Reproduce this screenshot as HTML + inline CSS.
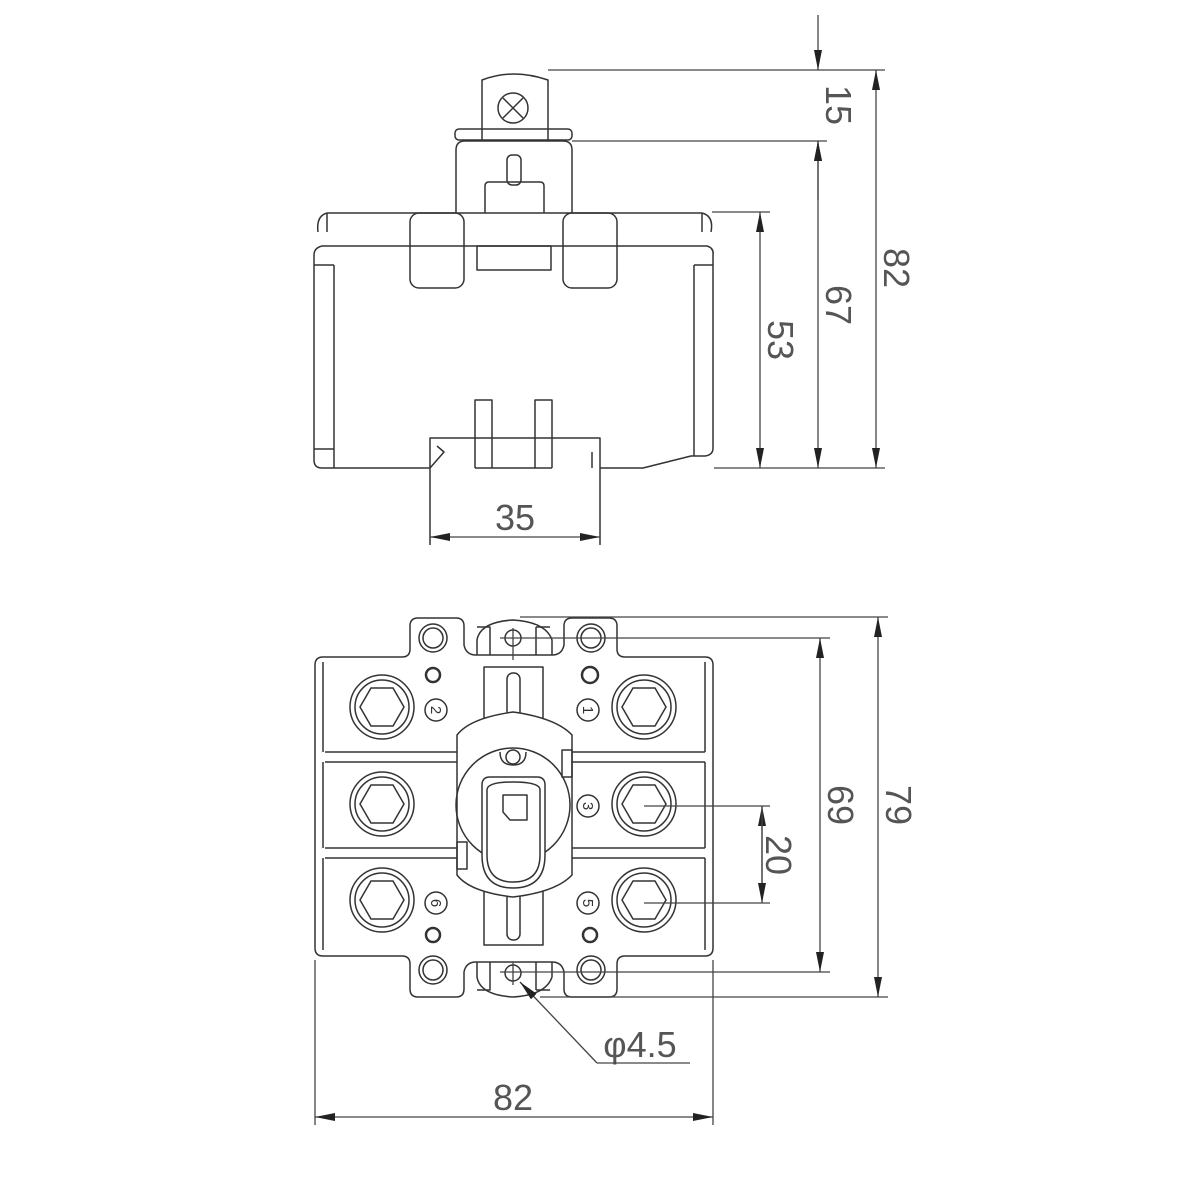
<!DOCTYPE html>
<html><head><style>body{margin:0;background:#fff}svg{display:block}</style></head><body>
<svg width="1200" height="1200" viewBox="0 0 1200 1200" xmlns="http://www.w3.org/2000/svg">
<defs>
<marker id="a" viewBox="0 0 20 8" refX="20" refY="4" markerWidth="20" markerHeight="8" markerUnits="userSpaceOnUse" orient="auto"><path d="M0,0 L20,4 L0,8 z" fill="#222"/></marker>
<g id="t" fill="none" stroke="#333" stroke-width="1.5"><circle r="32"/><circle r="27"/><path d="M-22,0 L-11,-19 L11,-19 L22,0 L11,19 L-11,19 Z"/></g>
</defs>
<g fill="none" stroke="#333" stroke-width="1.5" stroke-linejoin="round">
<!-- TOP VIEW -->
<path d="M482,140 L482,80 Q513,68 548,80 L548,140"/>
<circle cx="513" cy="108" r="15"/><path d="M503,98 L523,118 M523,98 L503,118"/>
<rect x="455" y="129" width="117" height="11" rx="4"/>
<path d="M456,213 L456,150 Q456,141 465,141 L563,141 Q572,141 572,150 L572,213"/>
<rect x="507" y="155" width="14" height="30" rx="5"/>
<path d="M485,213 L485,186 Q485,182 489,182 L540,182 Q544,182 544,186 L544,213"/>
<path d="M327,213 L702,213 M318,232 Q316,216 327,213 M702,213 Q714,216 711,232 M327,213 L327,232 M702,213 L702,232"/>
<path d="M322,246 L707,246 Q714,248 713,255 L713,448 Q713,455 705,456 L691,456 L643,468 L600,468 M322,246 Q314,248 314,255 L314,460 Q314,468 322,468 L430,468"/>
<path d="M334,265 L334,468 M314,265 L334,265 M314,449 L334,449 M694,265 L694,456 M713,265 L694,265"/>
<rect x="410" y="213" width="54" height="75" rx="9"/>
<rect x="563" y="213" width="54" height="75" rx="9"/>
<rect x="477" y="246" width="74" height="24"/>
<path d="M430,545 L430,438 L475,438 M552,438 L600,438 L600,545 M430,468 L444,452 L437,446 M592,452 L592,468"/>
<path d="M475,468 L475,400 L492,400 L492,468 M535,468 L535,400 L552,400 L552,468 M475,438 L552,438 M475,468 L552,468"/>
</g>
<g fill="none" stroke="#444" stroke-width="1.3">
<path d="M548,70 L885,70 M572,141 L827,141 M712,212 L770,212 M714,468 L885,468"/>
<line x1="818" y1="15" x2="818" y2="70" marker-end="url(#a)"/>
<line x1="818" y1="200" x2="818" y2="141" marker-end="url(#a)"/>
<line x1="818" y1="300" x2="818" y2="141" marker-end="url(#a)"/>
<line x1="818" y1="300" x2="818" y2="468" marker-end="url(#a)"/>
<line x1="876" y1="270" x2="876" y2="70" marker-end="url(#a)"/>
<line x1="876" y1="270" x2="876" y2="468" marker-end="url(#a)"/>
<line x1="760" y1="340" x2="760" y2="212" marker-end="url(#a)"/>
<line x1="760" y1="340" x2="760" y2="468" marker-end="url(#a)"/>
<line x1="515" y1="537" x2="430" y2="537" marker-end="url(#a)"/>
<line x1="515" y1="537" x2="600" y2="537" marker-end="url(#a)"/>
</g>
<g font-family="Liberation Sans, sans-serif" font-size="36" fill="#555" text-anchor="middle">
<text transform="translate(826,105) rotate(90)">15</text>
<text transform="translate(826,305) rotate(90)">67</text>
<text transform="translate(884,268) rotate(90)">82</text>
<text transform="translate(768,340) rotate(90)">53</text>
<text x="515" y="530">35</text>
<text transform="translate(828,805) rotate(90)">69</text>
<text transform="translate(886,805) rotate(90)">79</text>
<text transform="translate(766,855) rotate(90)">20</text>
<text x="513" y="1110">82</text>
<text x="640" y="1057">φ4.5</text>
</g>
<!-- BOTTOM VIEW -->
<g fill="none" stroke="#333" stroke-width="1.5" stroke-linejoin="round">
<path d="M323,657 L402,657 Q410,657 410,649 L410,626 Q410,618 418,618 L456,618 Q464,618 464,626 L464,645 Q466,655 476,655 L552,655 Q562,655 564,645 L564,626 Q564,618 572,618 L609,618 Q617,618 617,626 L617,649 Q617,657 625,657 L705,657 Q713,657 713,665 L713,948 Q713,956 705,956 L625,956 Q617,956 617,964 L617,989 Q617,997 609,997 L572,997 Q564,997 564,989 L564,972 Q562,962 552,962 L476,962 Q466,962 464,972 L464,989 Q464,997 456,997 L418,997 Q410,997 410,989 L410,964 Q410,956 402,956 L323,956 Q315,956 315,948 L315,665 Q315,657 323,657 Z"/>
<path d="M323,662 L323,752 M705,662 L705,752 M323,762 L323,848 M705,762 L705,848 M323,858 L323,950 M705,858 L705,950"/>
<path d="M325,752 L460,752 M325,762 L460,762 M325,848 L460,848 M325,858 L460,858 M570,752 L705,752 M570,762 L705,762 M570,848 L705,848 M570,858 L705,858"/>
<path d="M477,655 L477,640 Q480,622 513,620 Q546,622 552,640 L552,655 M477,962 L477,977 Q480,995 513,997 Q546,995 552,977 L552,962"/>
<path d="M477,627 L490,627 L490,655 M536,627 L550,627 M536,627 L536,655 M477,990 L490,990 L490,962 M536,990 L550,990 M536,990 L536,962"/>
<circle cx="433" cy="638" r="14"/><circle cx="433" cy="638" r="10"/>
<circle cx="591" cy="638" r="14"/><circle cx="591" cy="638" r="10"/>
<circle cx="433" cy="970" r="14"/><circle cx="433" cy="970" r="10"/>
<circle cx="591" cy="970" r="14"/><circle cx="591" cy="970" r="10"/>
<circle cx="513" cy="638" r="8"/><circle cx="513" cy="973" r="8"/>
<circle cx="433" cy="675" r="7" stroke-width="2.5"/><circle cx="590" cy="675" r="8" stroke-width="2.5"/>
<circle cx="433" cy="935" r="7" stroke-width="2.5"/><circle cx="590" cy="935" r="7" stroke-width="2.5"/>
</g>
<use href="#t" x="382" y="707"/><use href="#t" x="644" y="707"/>
<use href="#t" x="382" y="804"/><use href="#t" x="644" y="804"/>
<use href="#t" x="382" y="900"/><use href="#t" x="644" y="900"/>
<g fill="none" stroke="#333" stroke-width="1.5" stroke-linejoin="round">
<circle cx="436" cy="710" r="11"/><circle cx="588" cy="710" r="11"/>
<circle cx="588" cy="806" r="11"/><circle cx="436" cy="903" r="11"/><circle cx="588" cy="903" r="11"/>
<rect x="484" y="667" width="59" height="55"/>
<rect x="507" y="673" width="13" height="45" rx="6"/>
<rect x="484" y="888" width="59" height="57"/>
<rect x="507" y="890" width="13" height="50" rx="6"/>
<path d="M457,735 Q470,718 513,712 Q556,718 572,735 L572,875 Q556,892 513,897 Q470,892 457,875 Z" fill="#fff"/>
<circle cx="513" cy="805" r="57"/>
<path d="M500,752 Q500,765 513,765 Q526,765 526,752"/>
<circle cx="513" cy="757" r="7"/>
<path d="M482,785 Q482,777 490,777 L537,777 Q545,777 545,785 L545,855 Q545,888 513,888 Q482,888 482,855 Z" fill="#fff"/>
<path d="M487,790 L487,855 Q487,882 513,882 Q540,882 540,855 L540,790 Q540,782 513,782 Q487,782 487,790"/>
<path d="M503,795 L527,795 L527,820 L510,820 L503,812 Z"/>
<rect x="562" y="750" width="10" height="27"/><rect x="457" y="842" width="10" height="27"/>
</g>
<g font-family="Liberation Sans, sans-serif" font-size="15" fill="#333" text-anchor="middle">
<text transform="translate(431,710) rotate(90)">2</text>
<text transform="translate(583,710) rotate(90)">1</text>
<text transform="translate(583,806) rotate(90)">3</text>
<text transform="translate(431,903) rotate(90)">6</text>
<text transform="translate(583,903) rotate(90)">5</text>
</g>
<g fill="none" stroke="#444" stroke-width="1.3">
<path d="M513,628 L513,660 M513,962 L513,985 M500,638 L830,638 M500,972 L830,972 M520,617 L888,617 M540,997 L888,997 M644,806 L770,806 M644,903 L770,903 M315,960 L315,1125 M713,960 L713,1125"/>
<line x1="820" y1="805" x2="820" y2="638" marker-end="url(#a)"/>
<line x1="820" y1="805" x2="820" y2="972" marker-end="url(#a)"/>
<line x1="878" y1="805" x2="878" y2="617" marker-end="url(#a)"/>
<line x1="878" y1="805" x2="878" y2="997" marker-end="url(#a)"/>
<line x1="762" y1="900" x2="762" y2="806" marker-end="url(#a)"/>
<line x1="762" y1="806" x2="762" y2="903" marker-end="url(#a)"/>
<line x1="513" y1="1117" x2="315" y2="1117" marker-end="url(#a)"/>
<line x1="513" y1="1117" x2="713" y2="1117" marker-end="url(#a)"/>
<path d="M690,1063 L597,1063"/>
<line x1="597" y1="1063" x2="520" y2="982" marker-end="url(#a)"/>
</g>
</svg>
</body></html>
